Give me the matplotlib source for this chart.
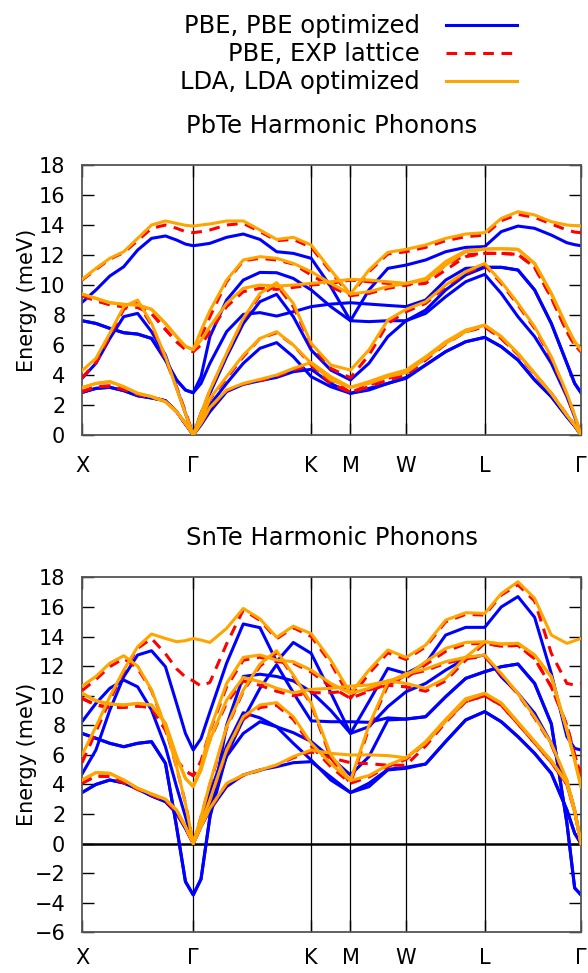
import numpy as np
import matplotlib.pyplot as plt

# q-path coordinate (units of 2pi/a) of every sampled point: X-G-K-M-W-L-G
q = [0, 0.125, 0.25, 0.375, 0.5, 0.625, 0.75, 0.85, 0.93, 1.0,
     1.07, 1.15, 1.3, 1.45, 1.6, 1.75, 1.9, 2.061,
     2.237, 2.414,
     2.58, 2.75, 2.914,
     3.09, 3.27, 3.45, 3.621,
     3.77, 3.92, 4.07, 4.22, 4.36, 4.43, 4.487]

sym_pos = [0, 1.0, 2.061, 2.414, 2.914, 3.621, 4.487]
sym_labels = ['X', 'Γ', 'K', 'M', 'W', 'L', 'Γ']

# ---- PbTe, energies in meV ----
pbte_pbe_opt = [
    [8.84, 9.67, 10.6, 11.22, 12.33, 13.11, 13.27, 13.0, 12.73, 12.62,
     12.69, 12.78, 13.18, 13.4, 13.04, 12.22, 12.11, 11.78,
     9.89, 7.62, 9.67, 11.11, 11.33, 11.67, 12.22, 12.51, 12.56,
     13.56, 13.93, 13.78, 13.33, 12.82, 12.69, 12.62],
    [7.62, 7.44, 7.11, 6.82, 6.73, 6.44, 5.0, 3.67, 3.0, 2.82,
     3.89, 6.56, 9.0, 10.33, 10.84, 10.82, 10.44, 9.67,
     8.56, 7.62, 7.56, 7.62, 7.62, 8.33, 9.67, 10.67, 11.18,
     11.18, 11.0, 9.67, 7.44, 4.78, 3.44, 2.82],
    [7.62, 7.44, 7.11, 6.82, 6.73, 6.44, 5.0, 3.67, 3.0, 2.82,
     3.44, 4.78, 6.89, 8.04, 8.16, 7.93, 8.22, 8.56,
     8.73, 8.82, 8.73, 8.64, 8.56, 9.0, 10.33, 11.11, 11.18,
     11.18, 11.0, 9.67, 7.44, 4.78, 3.44, 2.82],
    [3.78, 4.78, 6.44, 7.89, 8.11, 6.89, 5.33, 3.16, 1.44, 0,
     1.44, 2.78, 5.22, 7.44, 8.89, 9.38, 7.89, 5.67,
     4.33, 3.67, 4.78, 6.56, 7.62, 8.11, 9.22, 10.22, 10.71,
     9.44, 7.89, 6.56, 4.78, 2.56, 1.22, 0],
    [2.84, 3.11, 3.18, 2.96, 2.62, 2.47, 2.29, 1.56, 0.73, 0,
     0.89, 2.0, 3.44, 4.78, 5.78, 6.16, 5.22, 3.89,
     3.22, 2.78, 3.11, 3.44, 3.84, 4.67, 5.56, 6.22, 6.51,
     5.89, 5.0, 3.67, 2.56, 1.22, 0.6, 0],
    [2.84, 3.11, 3.18, 2.96, 2.62, 2.47, 2.29, 1.56, 0.73, 0,
     0.67, 1.56, 2.89, 3.38, 3.62, 3.84, 4.22, 4.38,
     3.44, 2.78, 3.0, 3.44, 3.78, 4.67, 5.56, 6.22, 6.51,
     5.89, 5.0, 3.67, 2.56, 1.22, 0.6, 0],
]

pbte_pbe_exp = [
    [10.33, 11.04, 11.73, 12.16, 12.96, 13.78, 14.0, 13.78, 13.56, 13.49,
     13.56, 13.67, 14.0, 14.11, 13.56, 12.96, 13.04, 12.51,
     10.89, 9.29, 10.89, 12.07, 12.22, 12.51, 12.96, 13.22, 13.33,
     14.29, 14.71, 14.51, 14.07, 13.67, 13.53, 13.49],
    [9.29, 8.96, 8.69, 8.56, 8.51, 8.11, 7.04, 6.22, 5.71, 5.56,
     6.56, 7.89, 10.22, 11.62, 11.78, 11.67, 11.4, 10.67,
     9.89, 9.29, 9.44, 9.78, 10.0, 10.29, 11.33, 12.0, 12.11,
     12.11, 12.04, 11.18, 9.16, 6.89, 6.0, 5.56],
    [9.29, 8.96, 8.69, 8.56, 8.51, 8.11, 7.04, 6.22, 5.71, 5.56,
     6.0, 6.89, 8.56, 9.56, 9.78, 9.71, 9.84, 10.0,
     10.11, 10.33, 10.22, 10.11, 10.0, 10.11, 11.0, 11.89, 12.11,
     12.11, 12.04, 11.18, 9.16, 6.89, 6.0, 5.56],
    [3.82, 4.82, 6.6, 8.38, 8.82, 7.33, 5.04, 3.2, 1.56, 0,
     1.44, 2.96, 5.4, 7.67, 9.33, 10.0, 8.56, 6.0,
     4.44, 3.82, 5.33, 7.44, 8.22, 8.78, 9.89, 10.78, 11.33,
     10.11, 8.67, 7.11, 5.11, 2.67, 1.29, 0],
    [2.89, 3.22, 3.27, 3.04, 2.71, 2.51, 2.29, 1.56, 0.76, 0,
     0.96, 2.38, 3.78, 5.22, 6.44, 6.82, 6.0, 4.67,
     3.44, 2.84, 3.33, 3.78, 4.11, 5.11, 6.16, 6.89, 7.22,
     6.44, 5.38, 4.07, 2.78, 1.33, 0.67, 0],
    [2.89, 3.22, 3.27, 3.04, 2.71, 2.51, 2.29, 1.56, 0.76, 0,
     0.73, 1.78, 2.96, 3.4, 3.62, 3.93, 4.33, 4.67,
     3.67, 2.84, 3.22, 3.67, 4.0, 5.0, 6.07, 6.89, 7.22,
     6.44, 5.38, 4.07, 2.78, 1.33, 0.67, 0],
]

pbte_lda = [
    [10.38, 11.11, 11.78, 12.22, 13.11, 14.0, 14.27, 14.11, 13.98, 13.93,
     14.0, 14.07, 14.27, 14.27, 13.67, 13.04, 13.18, 12.67,
     11.0, 9.4, 11.0, 12.18, 12.38, 12.67, 13.11, 13.4, 13.49,
     14.44, 14.89, 14.67, 14.22, 14.0, 13.96, 13.93],
    [9.4, 9.11, 8.82, 8.71, 8.67, 8.38, 7.44, 6.56, 5.91, 5.69,
     6.96, 8.29, 10.33, 11.67, 11.89, 11.78, 11.44, 10.89,
     10.11, 9.4, 9.56, 9.89, 10.11, 10.44, 11.56, 12.29, 12.4,
     12.42, 12.38, 11.44, 9.44, 7.22, 6.22, 5.69],
    [9.4, 9.11, 8.82, 8.71, 8.67, 8.38, 7.44, 6.56, 5.91, 5.69,
     6.33, 7.22, 8.78, 9.78, 10.0, 9.93, 10.0, 10.11,
     10.22, 10.38, 10.33, 10.22, 10.11, 10.33, 11.33, 12.22, 12.4,
     12.42, 12.38, 11.44, 9.44, 7.22, 6.22, 5.69],
    [4.29, 5.11, 6.78, 8.56, 9.0, 7.44, 5.22, 3.11, 1.44, 0,
     1.44, 3.0, 5.44, 7.78, 9.44, 10.16, 8.78, 6.11,
     4.67, 4.33, 5.67, 7.67, 8.38, 8.89, 10.0, 10.89, 11.44,
     10.22, 8.78, 7.22, 5.22, 2.78, 1.33, 0],
    [3.16, 3.44, 3.56, 3.22, 2.78, 2.56, 2.22, 1.56, 0.78, 0,
     1.0, 2.44, 3.89, 5.33, 6.44, 6.89, 6.0, 4.78,
     3.67, 3.18, 3.56, 4.0, 4.33, 5.22, 6.22, 7.0, 7.33,
     6.56, 5.44, 4.11, 2.78, 1.33, 0.67, 0],
    [3.16, 3.44, 3.56, 3.22, 2.78, 2.56, 2.22, 1.56, 0.78, 0,
     0.78, 1.84, 3.0, 3.44, 3.71, 4.0, 4.44, 4.84,
     3.89, 3.18, 3.44, 3.89, 4.16, 5.11, 6.11, 6.89, 7.33,
     6.56, 5.44, 4.11, 2.78, 1.33, 0.67, 0],
]

# ---- SnTe, energies in meV ----
snte_pbe_opt = [
    [4.7, 6.33, 9.03, 11.28, 12.75, 13.04, 11.96, 9.48, 7.45, 6.33,
     7.1, 8.9, 12.2, 14.85, 14.6, 12.3, 13.6, 12.86,
     10.2, 7.45, 9.6, 11.85, 11.5, 12.18, 14.1, 14.62, 14.62,
     16.0, 16.7, 15.3, 11.5, 7.23, 6.44, 6.33],
    [8.24, 9.48, 10.5, 11.06, 10.6, 9.03, 6.55, 3.85, 1.82, 0,
     1.6, 3.4, 6.6, 8.85, 8.5, 7.9, 7.5, 6.9,
     5.8, 4.64, 5.88, 8.36, 8.42, 8.58, 9.93, 11.17, 11.62,
     11.96, 12.14, 10.83, 8.1, 1.4, -3.0, -3.47],
    [7.45, 7.12, 6.78, 6.55, 6.78, 6.89, 5.43, 1.15, -2.57, -3.47,
     -2.4, 1.8, 8.0, 11.3, 11.45, 11.3, 11.0, 10.27,
     9.0, 7.45, 7.9, 9.26, 10.27, 10.83, 11.73, 12.52, 12.75,
     11.28, 10.16, 8.81, 6.78, 4.08, 2.27, 0],
    [7.45, 7.12, 6.78, 6.55, 6.78, 6.89, 5.43, 1.15, -2.57, -3.47,
     -2.4, 1.8, 6.0, 8.4, 10.5, 12.1, 10.2, 8.3,
     8.24, 8.24, 8.2, 8.5, 8.42, 8.58, 9.93, 11.17, 11.62,
     11.96, 12.14, 10.83, 8.1, 1.4, -3.0, -3.47],
    [3.45, 4.0, 4.3, 4.1, 3.7, 3.22, 2.84, 2.05, 1.04, 0,
     1.3, 2.6, 5.9, 7.45, 8.24, 7.9, 6.78, 5.65,
     4.3, 3.45, 4.08, 5.02, 5.16, 5.38, 6.9, 8.36, 8.92,
     8.24, 7.23, 6.1, 4.75, 2.27, 0.7, 0],
    [3.45, 4.0, 4.3, 4.1, 3.7, 3.22, 2.84, 2.05, 1.04, 0,
     1.15, 2.27, 3.85, 4.64, 4.98, 5.2, 5.47, 5.54,
     4.5, 3.45, 3.85, 4.98, 5.09, 5.38, 6.9, 8.36, 8.92,
     8.24, 7.23, 6.1, 4.75, 2.27, 0.7, 0],
]

snte_pbe_exp = [
    [5.47, 7.57, 9.71, 11.62, 13.2, 13.87, 12.84, 11.82, 11.26, 11.0,
     10.65, 10.9, 13.5, 15.8, 15.1, 13.85, 14.6, 14.0,
     12.2, 9.82, 11.5, 12.9, 12.45, 13.3, 15.0, 15.5, 15.45,
     16.8, 17.5, 16.4, 12.86, 10.83, 10.72, 10.83],
    [10.34, 11.1, 11.96, 12.52, 11.85, 10.34, 7.86, 5.16, 2.73, 0,
     1.8, 4.0, 7.8, 10.3, 12.0, 12.9, 11.3, 9.4,
     5.8, 4.08, 7.8, 10.7, 11.4, 11.7, 12.2, 12.5, 12.65,
     11.4, 10.1, 8.5, 6.7, 4.25, 2.25, 0],
    [9.82, 9.37, 9.21, 9.21, 9.3, 9.21, 7.68, 5.65, 4.9, 4.6,
     5.6, 7.6, 10.6, 12.4, 12.6, 12.3, 12.2, 11.6,
     10.6, 9.82, 10.3, 10.8, 11.2, 12.1, 13.0, 13.5, 13.55,
     13.35, 13.4, 12.5, 10.6, 8.0, 6.0, 4.6],
    [9.82, 9.37, 9.21, 9.21, 9.3, 9.21, 7.68, 5.65, 4.9, 4.6,
     5.4, 7.0, 9.5, 11.0, 10.7, 10.3, 10.0, 10.2,
     10.2, 10.34, 10.4, 10.7, 10.6, 10.3, 11.0, 12.4, 13.55,
     13.35, 13.4, 12.5, 10.6, 8.0, 6.0, 4.6],
    [4.08, 4.57, 4.53, 4.12, 3.67, 3.29, 2.91, 2.16, 1.1, 0,
     1.35, 2.9, 6.2, 8.4, 9.2, 9.35, 8.4, 6.6,
     5.2, 4.08, 4.5, 5.2, 5.7, 6.8, 8.3, 9.6, 10.0,
     9.35, 8.1, 6.8, 5.5, 4.0, 2.15, 0],
    [4.08, 4.57, 4.53, 4.12, 3.67, 3.29, 2.91, 2.16, 1.1, 0,
     1.15, 2.35, 4.0, 4.6, 4.95, 5.3, 5.8, 6.2,
     5.8, 5.47, 5.4, 5.3, 5.3, 6.6, 8.2, 9.6, 10.0,
     9.35, 8.1, 6.8, 5.5, 4.0, 2.15, 0],
]

snte_lda = [
    [5.99, 7.9, 9.93, 11.73, 13.31, 14.17, 13.87, 13.65, 13.72, 13.87,
     13.76, 13.6, 14.55, 15.9, 15.2, 13.95, 14.7, 14.2,
     12.4, 10.16, 11.73, 13.09, 12.59, 13.42, 15.11, 15.61, 15.56,
     16.9, 17.7, 16.58, 14.1, 13.54, 13.72, 13.87],
    [10.65, 11.3, 12.2, 12.7, 12.0, 10.4, 7.9, 5.2, 2.7, 0,
     1.8, 4.08, 7.9, 10.38, 12.14, 13.04, 11.4, 9.5,
     6.0, 4.26, 8.0, 10.9, 11.5, 11.8, 12.3, 12.6, 12.75,
     11.5, 10.16, 8.58, 6.78, 4.3, 2.27, 0],
    [10.16, 9.66, 9.44, 9.37, 9.48, 9.37, 8.13, 5.88, 4.41, 3.85,
     5.2, 7.68, 10.83, 12.59, 12.75, 12.41, 12.3, 11.73,
     10.83, 10.16, 10.5, 11.0, 11.33, 12.3, 13.2, 13.6, 13.65,
     13.49, 13.54, 12.75, 11.28, 7.68, 5.65, 3.85],
    [10.16, 9.66, 9.44, 9.37, 9.48, 9.37, 8.13, 5.88, 4.41, 3.85,
     4.95, 7.0, 9.7, 11.24, 10.95, 10.5, 10.2, 10.43,
     10.5, 10.65, 10.72, 11.0, 10.83, 10.5, 11.17, 12.6, 13.65,
     13.49, 13.54, 12.75, 11.28, 7.68, 5.65, 3.85],
    [4.3, 4.8, 4.75, 4.3, 3.74, 3.36, 3.0, 2.27, 1.15, 0,
     1.37, 2.95, 6.33, 8.58, 9.37, 9.53, 8.58, 6.78,
     5.4, 4.26, 4.6, 5.3, 5.8, 6.9, 8.4, 9.8, 10.16,
     9.5, 8.2, 6.9, 5.6, 4.1, 2.2, 0],
    [4.3, 4.8, 4.75, 4.3, 3.74, 3.36, 3.0, 2.27, 1.15, 0,
     1.15, 2.39, 4.08, 4.64, 4.98, 5.32, 5.88, 6.33,
     6.1, 5.99, 6.0, 5.95, 5.8, 6.8, 8.3, 9.7, 10.16,
     9.5, 8.2, 6.9, 5.6, 4.1, 2.2, 0],
]

FS = 15        # tick labels and axis label
FS_BIG = 17.5  # titles and key
DASH = (3.5, 2.5)

fig = plt.figure(figsize=(5.88, 9.73), dpi=100)
ax1 = fig.add_axes([0.1395, 0.5529, 0.8486, 0.2775])
ax2 = fig.add_axes([0.1395, 0.0418, 0.8486, 0.3648])


def draw(ax, pbe, exp, lda, ymin, ymax, title, xpad):
    for x in sym_pos[1:-1]:
        ax.axvline(x, color='black', lw=0.9, zorder=1)
    for b in pbe:
        ax.plot(q, b, color='blue', lw=2.2, zorder=2)
    for b in exp:
        ax.plot(q, b, color='red', lw=2.2, dashes=DASH, zorder=3)
    for b in lda:
        ax.plot(q, b, color='orange', lw=2.2, zorder=4)
    ax.set_xlim(sym_pos[0], sym_pos[-1])
    ax.set_ylim(ymin, ymax)
    ax.set_yticks(np.arange(ymin, ymax + 1, 2))
    ax.set_xticks(sym_pos, sym_labels)
    ax.tick_params(axis='y', direction='in', length=8.6, width=1,
                   left=True, right=True, labelsize=FS, pad=12)
    ax.tick_params(axis='x', direction='in', length=8.6, width=1,
                   top=True, bottom=True, labelsize=FS, pad=xpad)
    for s in ax.spines.values():
        s.set_color('#555555')
        s.set_linewidth(1.3)
    ax.set_ylabel('Energy (meV)', fontsize=FS)
    ax.yaxis.set_label_coords(-0.09, 0.5)
    ax.set_title(title, fontsize=FS_BIG, pad=23)


draw(ax1, pbte_pbe_opt, pbte_pbe_exp, pbte_lda, 0, 18, 'PbTe Harmonic Phonons', 15)
draw(ax2, snte_pbe_opt, snte_pbe_exp, snte_lda, -6, 18, 'SnTe Harmonic Phonons', 11)
ax2.axhline(0, color='black', lw=1.8, zorder=1)

handles = [plt.Line2D([], [], color='blue', lw=2.2),
           plt.Line2D([], [], color='red', lw=2.2, dashes=DASH),
           plt.Line2D([], [], color='orange', lw=2.2)]
fig.legend(handles, ['PBE, PBE optimized', 'PBE, EXP lattice', 'LDA, LDA optimized'],
           loc='upper right', bbox_to_anchor=(529 / 588, 1 - 2 / 973),
           frameon=False, markerfirst=False, fontsize=FS_BIG, borderpad=0,
           handlelength=2.9, handletextpad=1.1, labelspacing=0.17)

fig.savefig('out.png', dpi=100)
